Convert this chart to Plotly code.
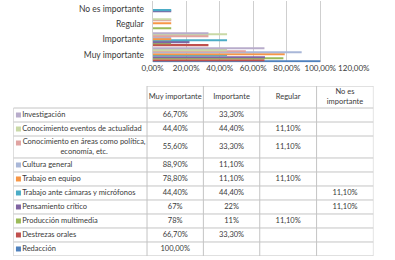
import plotly.graph_objects as go

categories = ["Muy importante", "Importante", "Regular", "No es importante"]
series_names = ["Redacción", "Destrezas orales", "Producción multimedia", "Pensamiento crítico",
                "Trabajo ante cámaras y micrófonos", "Trabajo en equipo", "Cultura general",
                "Conocimiento en áreas como política, economía, etc.",
                "Conocimiento eventos de actualidad", "Investigación"]
table_names = ["Redacción", "Destrezas orales", "Producción multimedia", "Pensamiento crítico",
               "Trabajo ante cámaras y micrófonos", "Trabajo en equipo", "Cultura general",
               "Conocimiento en áreas como política,<br>economía, etc.",
               "Conocimiento eventos de actualidad", "Investigación"]
muy_importante = [1.0, 0.667, 0.78, 0.67, 0.444, 0.788, 0.889, 0.556, 0.444, 0.667]
importante = [None, 0.333, 0.11, 0.22, 0.444, 0.111, 0.111, 0.333, 0.444, 0.333]
regular = [None, None, 0.111, None, None, 0.111, None, 0.111, 0.111, None]
no_importante = [None, None, None, 0.111, 0.111, None, None, None, None, None]

t_muy = ["100,00%", "66,70%", "78%", "67%", "44,40%", "78,80%", "88,90%", "55,60%", "44,40%", "66,70%"]
t_imp = ["", "33,30%", "11%", "22%", "44,40%", "11,10%", "11,10%", "33,30%", "44,40%", "33,30%"]
t_reg = ["", "", "11,10%", "", "", "11,10%", "", "11,10%", "11,10%", ""]
t_no = ["", "", "", "11,10%", "11,10%", "", "", "", "", ""]
headers = ["Muy importante", "Importante", "Regular", "No es<br>importante"]

colors = ["#4F81BD", "#C0504D", "#9BBB59", "#8064A2", "#4BACC6", "#F79646",
          "#A9B7D8", "#E0A3A1", "#C9D9A6", "#B8ACCB"]

FONT = "Lato"
TXT = "#3A3A3A"
GRID = "#C4C4C4"
TS = 7.5

fig = go.Figure()
for i, name in enumerate(series_names):
    vals = [muy_importante[i], importante[i], regular[i], no_importante[i]]
    fig.add_trace(go.Bar(y=categories, x=vals, orientation="h", name=name,
                         marker=dict(color=colors[i], line=dict(width=0)),
                         xaxis="x", yaxis="y", showlegend=False, hoverinfo="x+name"))

# ---- data table (drawn on its own hidden axes, units ~ pixels) ----
col_edges = [0, 143.5, 204, 264.5, 325.5, 386.5]
header_h = 22
row_h = 14
order = list(range(len(series_names)))[::-1]  # top row = last series
heights = [row_h * 1.57 if "<br>" in table_names[i] else row_h for i in order]
row_edges = [header_h]
for h in heights:
    row_edges.append(row_edges[-1] + h)
total_h = row_edges[-1]
row_mid = [(row_edges[k] + row_edges[k + 1]) / 2 for k in range(len(order))]
col_mid = [(col_edges[k] + col_edges[k + 1]) / 2 for k in range(1, 5)]

common = dict(xaxis="x2", yaxis="y2", showlegend=False, hoverinfo="skip", cliponaxis=False)
fig.add_trace(go.Scatter(x=[5.5] * len(order), y=[row_edges[k] + 7 for k in range(len(order))],
                         mode="markers", marker=dict(symbol="square", size=5,
                                                      color=[colors[i] for i in order], line=dict(width=0)),
                         **common))
for k, i in enumerate(order):
    name = table_names[i]
    multi = "<br>" in name
    fig.add_trace(go.Scatter(x=[76 if multi else 9.5], y=[row_mid[k]], mode="text", text=[name],
                             textposition="middle center" if multi else "middle right",
                             textfont=dict(family=FONT, size=TS, color=TXT), **common))
for c, col in enumerate([t_muy, t_imp, t_reg, t_no]):
    fig.add_trace(go.Scatter(x=[col_mid[c]] * len(order), y=row_mid,
                             mode="text", text=[col[i] for i in order],
                             textposition="middle center",
                             textfont=dict(family=FONT, size=TS, color=TXT), **common))
fig.add_trace(go.Scatter(x=col_mid, y=[header_h / 2] * 4, mode="text", text=headers,
                         textposition="middle center",
                         textfont=dict(family=FONT, size=TS, color=TXT), **common))

line = dict(color=GRID, width=1)
fig.add_shape(type="line", xref="x2", yref="y2", x0=col_edges[1], x1=col_edges[-1], y0=0, y1=0, line=line)
for y in row_edges:
    fig.add_shape(type="line", xref="x2", yref="y2", x0=0, x1=col_edges[-1], y0=y, y1=y, line=line)
fig.add_shape(type="line", xref="x2", yref="y2", x0=0, x1=0, y0=header_h, y1=total_h, line=line)
for x in col_edges[1:]:
    fig.add_shape(type="line", xref="x2", yref="y2", x0=x, x1=x, y0=0, y1=total_h, line=line)

fig.update_layout(
    width=395, height=260,
    margin=dict(l=0, r=0, t=0, b=0),
    paper_bgcolor="white", plot_bgcolor="white",
    barmode="group", bargap=0.04, bargroupgap=0,
    separators=",.",
    font=dict(family=FONT, size=8.5, color=TXT),
    xaxis=dict(domain=[0.3848, 0.9316], range=[0, 1.2], dtick=0.2, tickformat=".2%",
               showgrid=True, gridcolor="#CFCFCF", gridwidth=1, zeroline=False,
               showline=False, ticks="", tickangle=0,
               tickfont=dict(family=FONT, size=8, color=TXT), anchor="y"),
    yaxis=dict(domain=[0.76, 0.995], showgrid=False, showline=True, linecolor="#CFCFCF",
               ticks="", ticklabelstandoff=6, tickfont=dict(family=FONT, size=8.5, color=TXT), anchor="x"),
    xaxis2=dict(domain=[2.5 / 395, 389 / 395], range=[0, col_edges[-1]], visible=False,
                fixedrange=True, anchor="y2"),
    yaxis2=dict(domain=[1 - (86 + total_h) / 260, 1 - 86 / 260], range=[total_h, 0], visible=False,
                fixedrange=True, anchor="x2"),
)

fig.write_html("out.html", config={"displayModeBar": False},
               post_script="document.body.style.margin='0';")
